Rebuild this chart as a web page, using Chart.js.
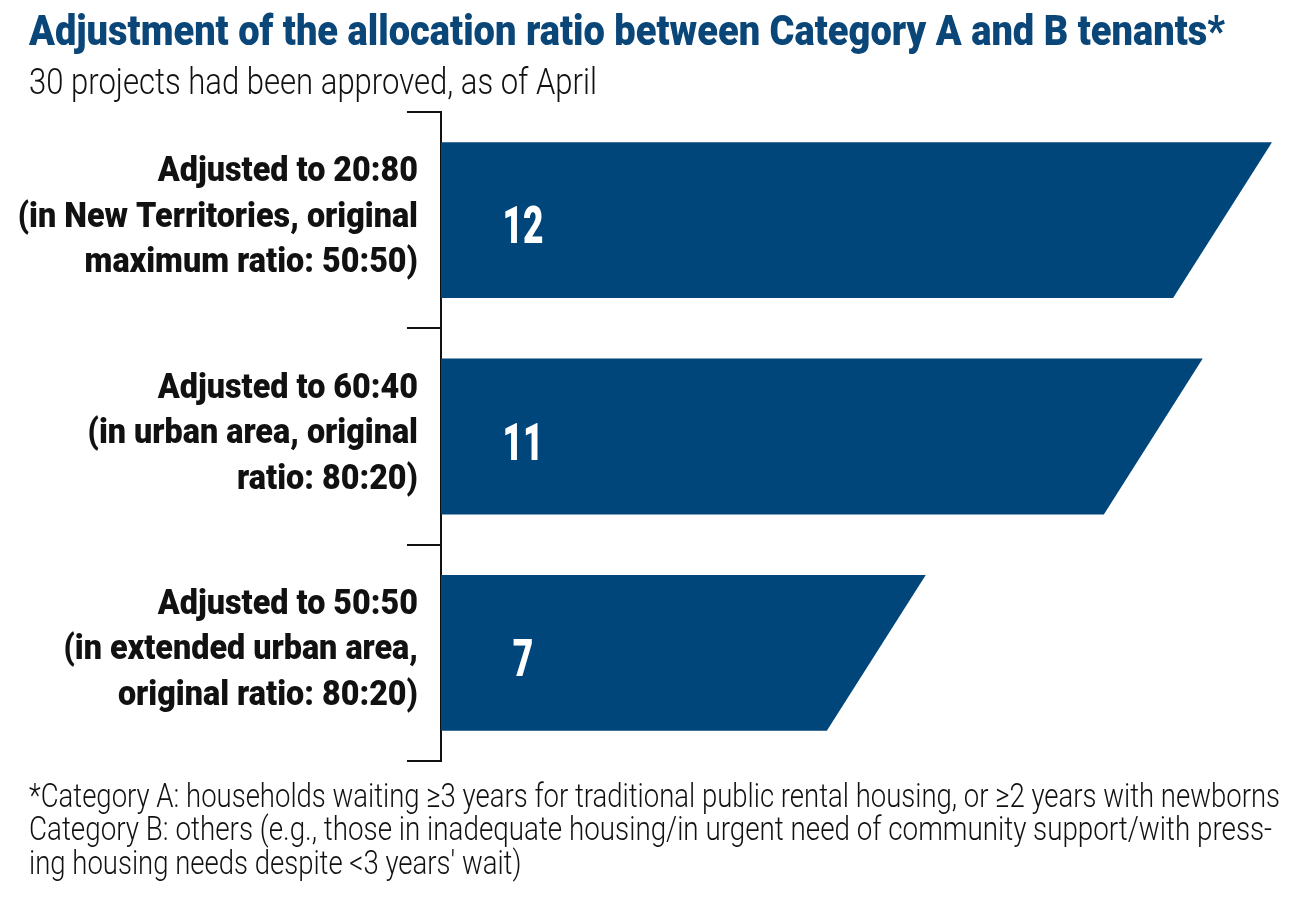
<!DOCTYPE html>
<html>
<head>
<meta charset="utf-8">
<script src="https://cdn.jsdelivr.net/npm/chart.js@4.4.1/dist/chart.umd.min.js"></script>
<style>
html,body{margin:0;padding:0;background:#fff;width:1303px;height:900px;overflow:hidden;}
#wrap{position:absolute;left:0;top:0;width:1303px;height:900px;}
canvas{position:absolute;left:0;top:0;}
.t{position:absolute;left:29px;white-space:nowrap;transform-origin:0 0;font-family:Roboto,"Liberation Sans",sans-serif;}
#title{font-weight:900;color:#0b4679;font-size:42px;line-height:42px;top:10px;}
#sub{font-weight:300;color:#111;font-size:36px;line-height:36px;top:64px;}
.fn{font-weight:300;color:#111;font-size:33px;line-height:33px;}
</style>
</head>
<body>
<div id="wrap">
<canvas id="c" width="1303" height="900"></canvas>
<div class="t" id="title" data-w="1196">Adjustment of the allocation ratio between Category A and B tenants*</div>
<div class="t" id="sub" data-w="568">30 projects had been approved, as of April</div>
<div class="t fn" id="fn1" style="top:779px" data-w="1251">*Category A: households waiting ≥3 years for traditional public rental housing, or ≥2 years with newborns</div>
<div class="t fn" id="fn2" style="top:812px" data-w="1243">Category B: others (e.g., those in inadequate housing/in urgent need of community support/with press-</div>
<div class="t fn" id="fn3" style="top:846px">ing housing needs despite &lt;3 years' wait)</div>
</div>
<script>
// ---- data ----
const categories = [
  ["Adjusted to 20:80", "(in New Territories, original", "maximum ratio: 50:50)"],
  ["Adjusted to 60:40", "(in urban area, original", "ratio: 80:20)"],
  ["Adjusted to 50:50", "(in extended urban area,", "original ratio: 80:20)"]
];
const projectCounts = [12, 11, 7];
const valueLabels = ["12", "11", "7"];
const axisMax = 12;

// ---- styles ----
const BAR_COLOR = '#01467a';
const FONT = 'Roboto, "Liberation Sans", sans-serif';

function condensedText(ctx, text, x, y, align, sx) {
  ctx.save();
  ctx.translate(x, y);
  ctx.scale(sx, 1);
  ctx.textAlign = align;
  ctx.textBaseline = 'alphabetic';
  ctx.fillText(text, 0, 0);
  ctx.restore();
}

const slantBars = {
  id: 'slantBars',
  beforeDatasetDraw(chart, args) {
    const ctx = chart.ctx;
    const meta = args.meta;
    ctx.save();
    ctx.fillStyle = BAR_COLOR;
    meta.data.forEach(el => {
      const p = el.getProps(['x', 'y', 'base', 'height'], true);
      const top = p.y - p.height / 2, bot = p.y + p.height / 2;
      const slant = p.height * 0.635;
      ctx.beginPath();
      ctx.moveTo(p.base, top);
      ctx.lineTo(p.x, top);
      ctx.lineTo(p.x - slant, bot);
      ctx.lineTo(p.base, bot);
      ctx.closePath();
      ctx.fill();
    });
    ctx.fillStyle = '#ffffff';
    ctx.font = '900 51px ' + FONT;
    const sxv = 41 / ctx.measureText('12').width;
    meta.data.forEach((el, i) => {
      const p = el.getProps(['y', 'base'], true);
      condensedText(ctx, valueLabels[i], p.base + 82, p.y + 23, 'center', sxv);
    });
    ctx.restore();
    return false;
  },
  afterDraw(chart) {
    const ctx = chart.ctx;
    const yScale = chart.scales.y;
    ctx.save();
    ctx.fillStyle = '#111';
    ctx.font = '900 35px ' + FONT;
    const s1 = 393 / ctx.measureText(categories[0][1]).width;
    const s2 = 265 / ctx.measureText(categories[0][0]).width;
    const sx = (s1 + s2) / 2;
    categories.forEach((lines, i) => {
      const cy = yScale.getPixelForValue(i);
      lines.forEach((ln, j) => {
        condensedText(ctx, ln, 418, cy + 6.5 + (j - 1) * 45.5, 'right', sx);
      });
    });
    ctx.restore();
  }
};

new Chart(document.getElementById('c'), {
  type: 'bar',
  data: {
    labels: categories,
    datasets: [{
      data: projectCounts,
      backgroundColor: BAR_COLOR,
      borderWidth: 0,
      barPercentage: 0.72,
      categoryPercentage: 1.0
    }]
  },
  options: {
    indexAxis: 'y',
    responsive: false,
    animation: false,
    devicePixelRatio: 1,
    layout: { padding: { top: 112, bottom: 139, left: 0, right: 31 } },
    plugins: { legend: { display: false }, tooltip: { enabled: false }, title: { display: false } },
    scales: {
      x: { display: false, min: 0, max: axisMax },
      y: {
        position: 'left',
        offset: true,
        grid: { display: true, offset: true, drawOnChartArea: false, drawTicks: true, tickLength: 34, color: '#111', lineWidth: 2 },
        border: { display: true, color: '#111', width: 2 },
        ticks: { display: false },
        afterFit(scale) { scale.width = 441; }
      }
    }
  },
  plugins: [slantBars]
});

function fitTexts() {
  const els = ['title', 'sub', 'fn1', 'fn2'];
  els.forEach(id => {
    const el = document.getElementById(id);
    el.style.transform = 'none';
    const w = el.getBoundingClientRect().width;
    el.style.transform = 'scaleX(' + (parseFloat(el.dataset.w) / w) + ')';
  });
  // footnote: lines 1-2 are justified; the last line uses the same glyph scale as line 1
  const f1 = document.getElementById('fn1');
  const f3 = document.getElementById('fn3');
  f3.style.transform = f1.style.transform;
}
fitTexts();
if (document.fonts && document.fonts.ready) document.fonts.ready.then(fitTexts);
</script>
</body>
</html>
